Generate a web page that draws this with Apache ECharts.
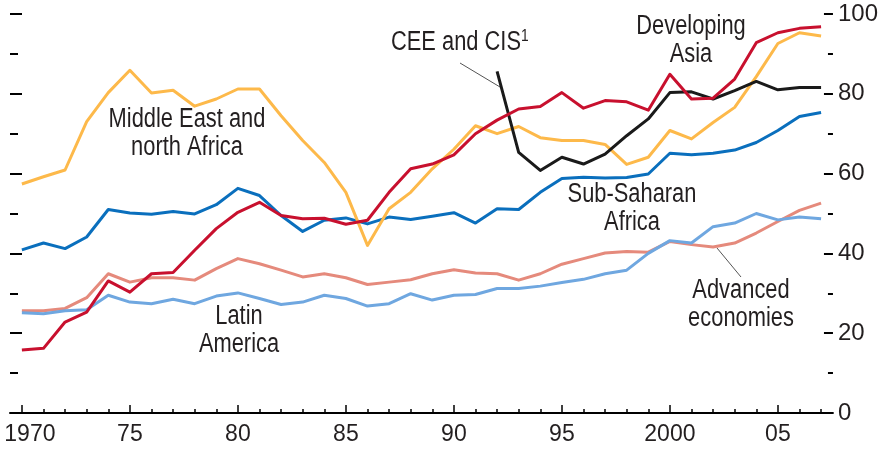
<!DOCTYPE html>
<html>
<head>
<meta charset="utf-8">
<script src="https://cdn.jsdelivr.net/npm/echarts@6/dist/echarts.min.js"></script>
<style>
  html, body { margin: 0; padding: 0; background: #fff; }
  #chart { width: 881px; height: 451px; }
</style>
</head>
<body>
<div id="chart"></div>
<script>
// years shown on the x axis (one point per year)
var years = [1970, 1971, 1972, 1973, 1974, 1975, 1976, 1977, 1978, 1979,
  1980, 1981, 1982, 1983, 1984, 1985, 1986, 1987, 1988, 1989,
  1990, 1991, 1992, 1993, 1994, 1995, 1996, 1997, 1998, 1999,
  2000, 2001, 2002, 2003, 2004, 2005, 2006, 2007]

var tickYears = [1970, 1975, 1980, 1985, 1990, 1995, 2000, 2005]
var tickLabels = ['1970', '75', '80', '85', '90', '95', '2000', '05']

var developingAsia = [15.8, 16.2, 22.8, 25.3, 33.1, 30.3, 34.9, 35.2, 40.8, 46.2,
  50.3, 52.8, 49.5, 48.7, 48.8, 47.3, 48.3, 55.3, 61.2, 62.4,
  64.7, 70.0, 73.4, 76.2, 76.8, 80.3, 76.4, 78.3, 78.0, 75.9,
  84.9, 78.7, 78.9, 83.7, 92.8, 95.3, 96.4, 96.8]

var middleEast = [57.4, 59.2, 60.9, 73.0, 80.3, 85.9, 80.2, 80.9, 76.9, 78.7,
  81.2, 81.2, 74.5, 68.3, 62.8, 55.3, 42.0, 51.2, 55.3, 61.2,
  66.1, 72.0, 70.0, 71.8, 69.0, 68.3, 68.3, 67.3, 62.3, 64.1,
  70.8, 68.7, 72.8, 76.6, 84.3, 92.6, 95.3, 94.5]

var ceeCis = [null, null, null, null, null, null, null, null, null, null,
  null, null, null, null, null, null, null, null, null, null,
  null, null, 85.6, 65.3, 60.8, 64.1, 62.4, 64.9, 69.5, 73.7,
  80.3, 80.5, 78.7, 80.8, 83.1, 81.0, 81.6, 81.6]

var subSaharan = [40.9, 42.6, 41.2, 44.1, 51.0, 50.1, 49.8, 50.5, 49.9, 52.2,
  56.3, 54.5, 49.5, 45.5, 48.3, 48.9, 47.4, 49.1, 48.5, 49.3,
  50.2, 47.6, 51.2, 51.0, 55.3, 58.8, 59.1, 58.9, 59.0, 59.9,
  65.1, 64.7, 65.1, 65.9, 67.8, 70.8, 74.3, 75.3]

var advanced = [25.6, 25.6, 26.2, 28.9, 34.9, 32.8, 33.9, 33.9, 33.3, 36.2,
  38.7, 37.4, 35.8, 34.1, 34.9, 33.9, 32.2, 32.8, 33.4, 34.9,
  35.9, 35.1, 34.9, 33.3, 34.9, 37.3, 38.7, 40.1, 40.5, 40.3,
  43.0, 42.2, 41.6, 42.6, 45.1, 48.0, 50.8, 52.6]

var latinAmerica = [25.1, 24.9, 25.6, 25.9, 29.5, 27.8, 27.4, 28.5, 27.4, 29.3,
  30.1, 28.7, 27.2, 27.8, 29.5, 28.7, 26.8, 27.4, 29.9, 28.3,
  29.5, 29.7, 31.2, 31.2, 31.8, 32.7, 33.5, 34.9, 35.8, 40.0,
  43.2, 42.6, 46.7, 47.6, 50.0, 48.4, 49.1, 48.7]

var FONT = '"Liberation Sans", Arial, sans-serif'
var TEXT = '#231f20'

function pairs(values) {
  return years.map(function (y, i) { return [y, values[i]] })
}

function line(name, values, color, z) {
  return {
    name: name,
    type: 'line',
    data: pairs(values),
    symbol: 'none',
    z: z,
    connectNulls: false,
    lineStyle: { color: color, width: 3, join: 'round' }
  }
}

// annotation text, squeezed horizontally to look like a condensed face
function note(x, y, text, size, align) {
  return {
    type: 'text',
    x: x,
    y: y,
    scaleX: 0.81,
    style: {
      text: text,
      fill: TEXT,
      align: align || 'center',
      verticalAlign: 'top',
      lineHeight: 28,
      font: (size || 27) + 'px ' + FONT
    }
  }
}

var chart = echarts.init(document.getElementById('chart'), null, { renderer: 'canvas' })

chart.setOption({
  animation: false,
  backgroundColor: '#fff',
  grid: { left: 10, right: 46, top: 14, bottom: 38 },
  xAxis: [{
    type: 'value',
    min: 1969.45,
    max: 2007.55,
    axisLine: { show: true, lineStyle: { color: '#000', width: 2 } },
    axisTick: {
      show: true, inside: true, length: 8,
      customValues: tickYears,
      lineStyle: { color: '#000', width: 1.5 }
    },
    axisLabel: {
      customValues: tickYears,
      margin: 10,
      color: TEXT,
      fontSize: 23,
      fontFamily: FONT,
      formatter: function (v) {
        var i = tickYears.indexOf(Math.round(v))
        if (i === 0) return '{first|' + tickLabels[i] + '}'
        return i >= 0 ? tickLabels[i] : ''
      },
      rich: {
        first: { fontSize: 23, fontFamily: FONT, color: TEXT, padding: [0, 0, 0, 16] }
      }
    },
    splitLine: { show: false }
  }, {
    // yearly minor ticks
    type: 'value',
    position: 'bottom',
    min: 1969.45,
    max: 2007.55,
    axisLine: { show: false },
    axisTick: {
      show: true, inside: true, length: 4,
      customValues: years,
      lineStyle: { color: '#000', width: 1.5 }
    },
    axisLabel: { show: false },
    splitLine: { show: false }
  }],
  yAxis: [{
    type: 'value',
    position: 'left',
    min: 0,
    max: 100,
    interval: 20,
    axisLine: { show: false },
    axisTick: { show: true, inside: true, length: 12, lineStyle: { color: '#000', width: 2 } },
    minorTick: { show: true, splitNumber: 2, length: 8, lineStyle: { color: '#000', width: 2 } },
    axisLabel: { show: false },
    splitLine: { show: false }
  }, {
    type: 'value',
    position: 'right',
    min: 0,
    max: 100,
    interval: 20,
    axisLine: { show: false },
    axisTick: { show: true, inside: true, length: 9, lineStyle: { color: '#000', width: 2 } },
    minorTick: { show: true, splitNumber: 2, length: 5, lineStyle: { color: '#000', width: 2 } },
    axisLabel: { margin: 5, color: TEXT, fontSize: 24, fontFamily: FONT },
    splitLine: { show: false }
  }],
  series: [
    line('Advanced economies', advanced, '#e58a7c', 2),
    line('Latin America', latinAmerica, '#6fa7e0', 3),
    line('Sub-Saharan Africa', subSaharan, '#0a6fbd', 4),
    line('Middle East and north Africa', middleEast, '#fdb94a', 5),
    line('CEE and CIS', ceeCis, '#1a1a1a', 6),
    line('Developing Asia', developingAsia, '#c8102e', 7)
  ],
  graphic: [
    note(187, 106, 'Middle East and\nnorth Africa'),
    note(456, 29, 'CEE and CIS'),
    note(521, 22, '1', 17, 'left'),
    note(691, 13, 'Developing\nAsia'),
    note(632, 181, 'Sub-Saharan\nAfrica'),
    note(741, 277, 'Advanced\neconomies'),
    note(239, 303, 'Latin\nAmerica'),
    { type: 'line', shape: { x1: 460, y1: 63, x2: 500, y2: 87 }, style: { stroke: '#555', lineWidth: 1 } },
    { type: 'line', shape: { x1: 717, y1: 248, x2: 741, y2: 277 }, style: { stroke: '#555', lineWidth: 1 } }
  ]
})
</script>
</body>
</html>
